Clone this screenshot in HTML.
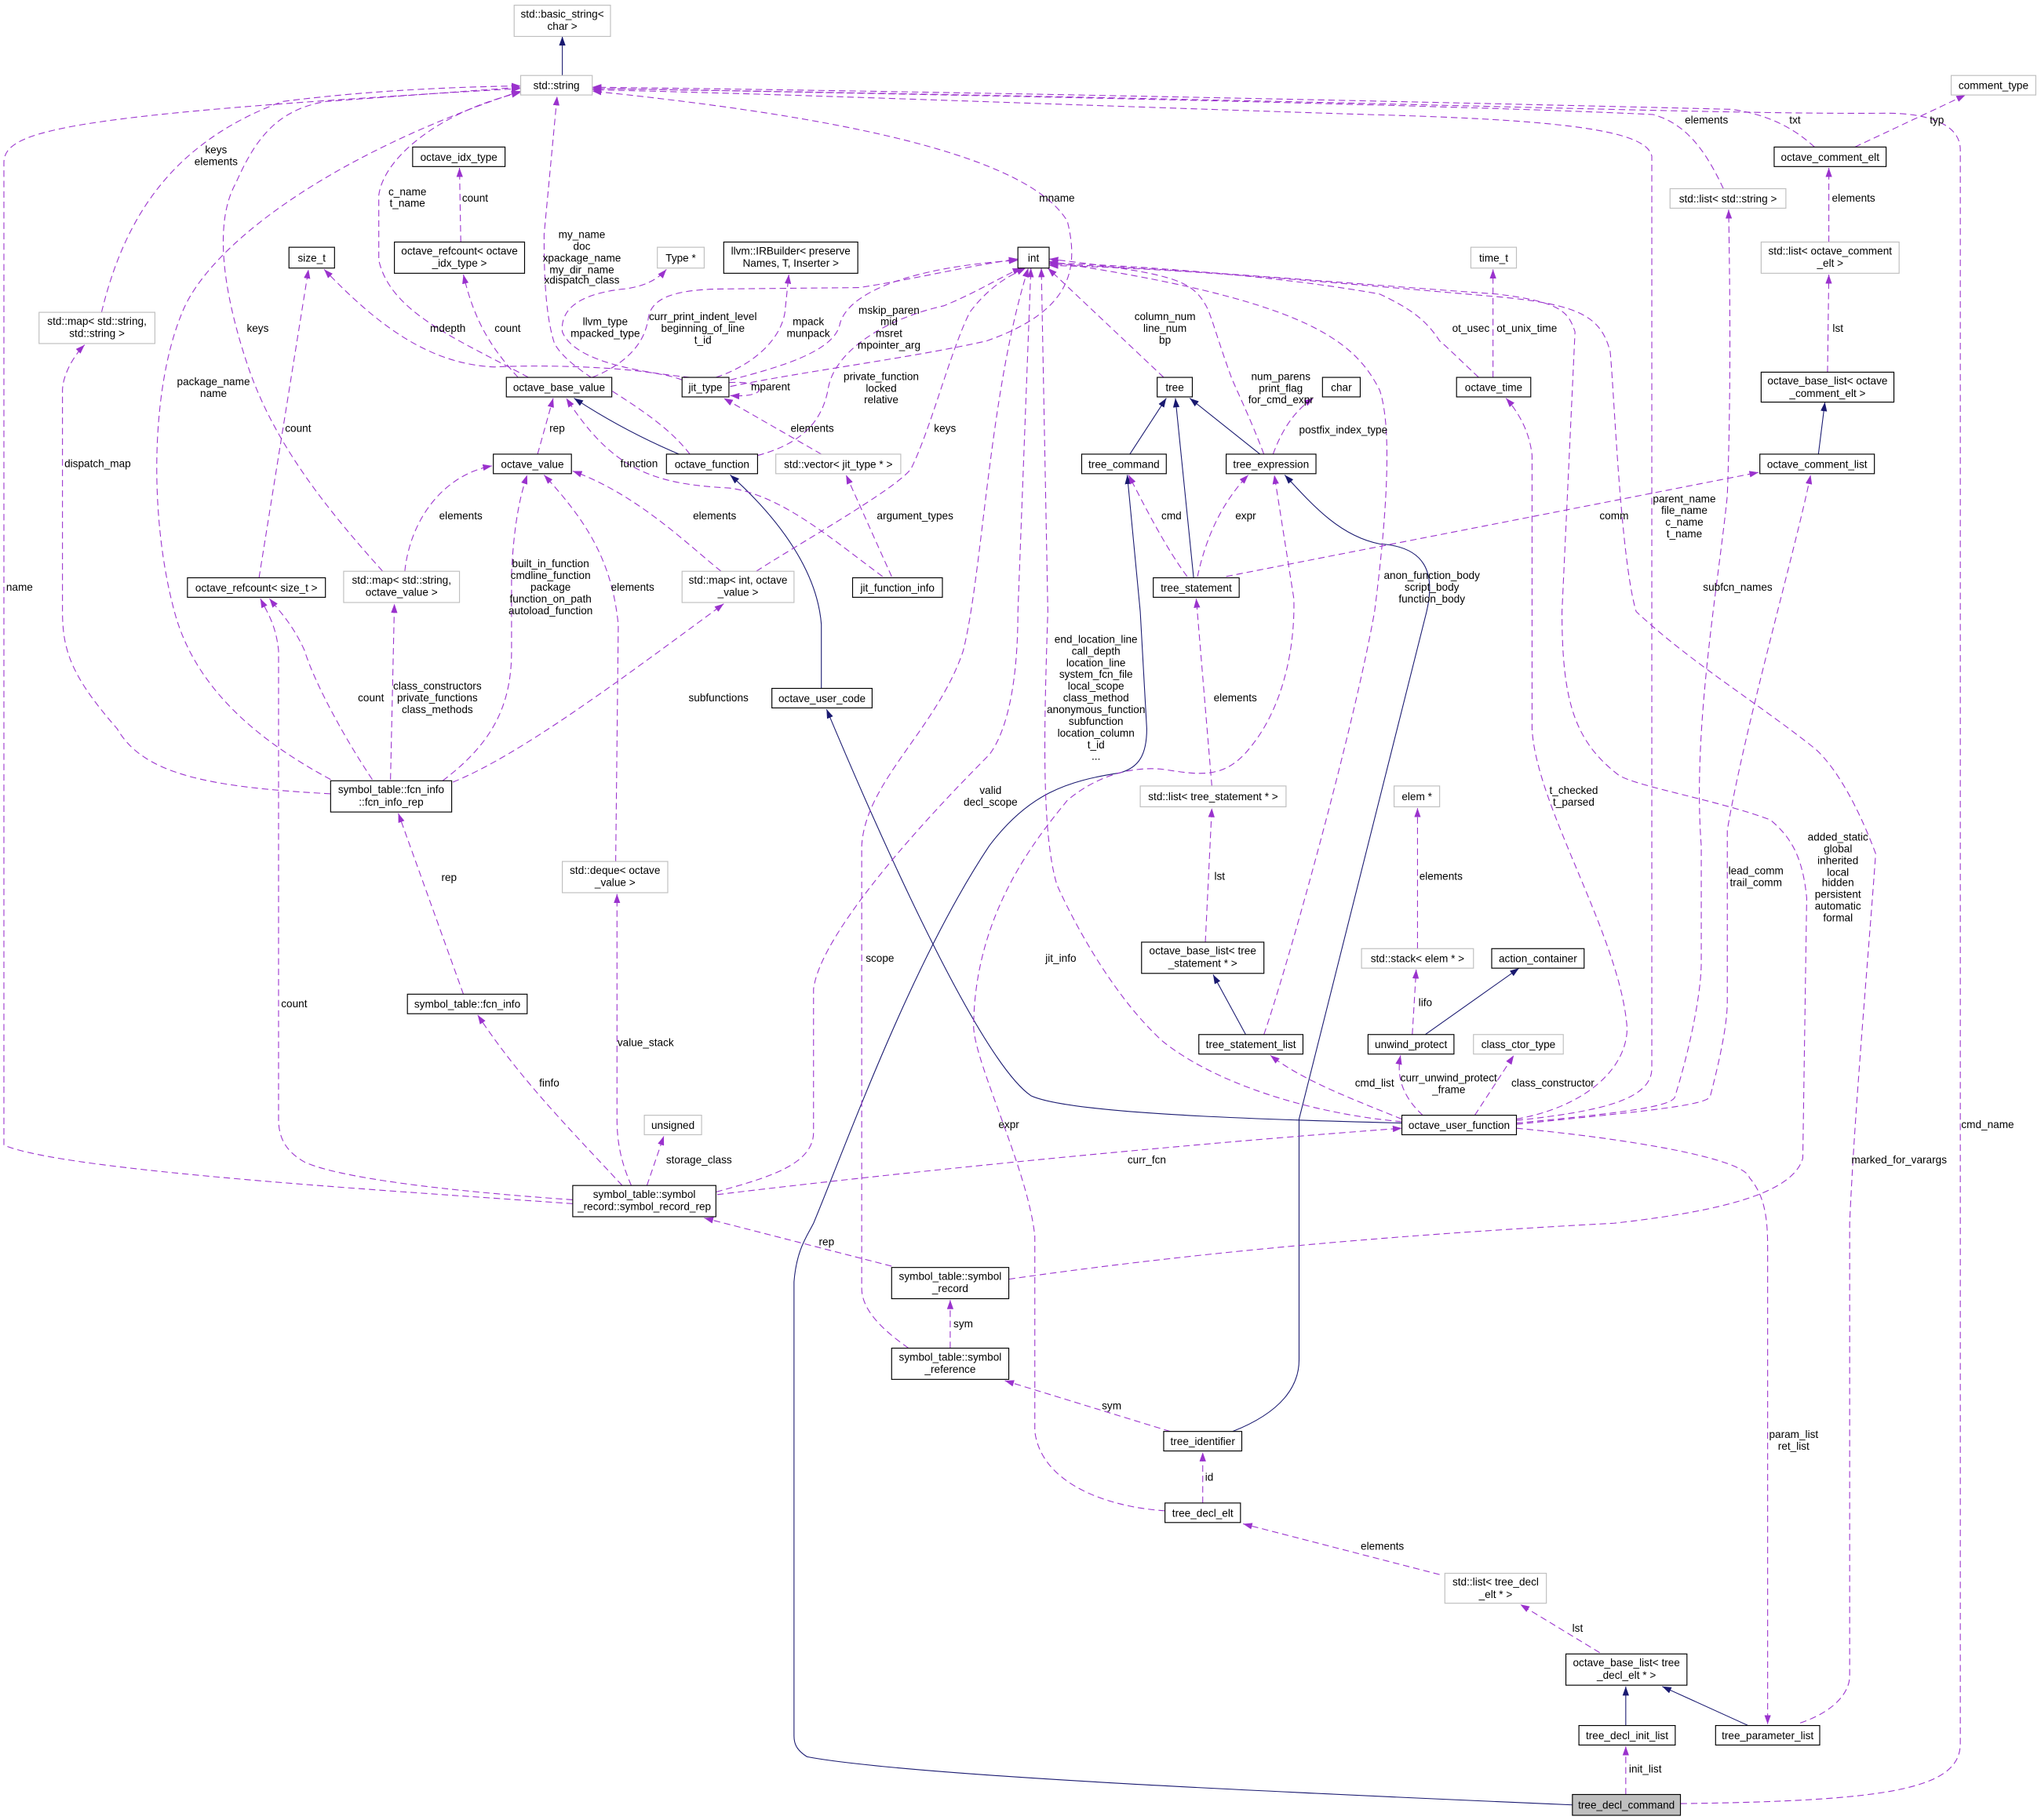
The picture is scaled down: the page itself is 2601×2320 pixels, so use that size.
<!DOCTYPE html>
<html><head><meta charset="utf-8"><style>
html,body{margin:0;padding:0;background:#fff}
svg{display:block}
text{font-family:"Liberation Sans",sans-serif;font-size:8.2px;fill:#000;text-anchor:middle}
.p{fill:none;stroke:#9a32cd;stroke-width:0.65;stroke-dasharray:5,3;marker-end:url(#ap)}
.n{fill:none;stroke:#191970;stroke-width:0.65;marker-end:url(#an)}
.b{fill:#fff;stroke:#000;stroke-width:0.7}
.g{fill:#fff;stroke:#bfbfbf;stroke-width:0.7}
</style></head><body>
<svg width="2601" height="2320" viewBox="0 0 1568 1398.6" xmlns="http://www.w3.org/2000/svg">
<defs>
<marker id="ap" markerUnits="userSpaceOnUse" markerWidth="7" markerHeight="5" refX="7" refY="2.5" orient="auto"><path d="M0,0 L7,2.5 L0,5 z" fill="#9a32cd"/></marker>
<marker id="an" markerUnits="userSpaceOnUse" markerWidth="7" markerHeight="5" refX="7" refY="2.5" orient="auto"><path d="M0,0 L7,2.5 L0,5 z" fill="#191970"/></marker>
</defs>
<rect width="1568" height="1398.6" fill="#fff"/>
<!-- navy edges -->
<path class="n" d="M432,58 L432,28"/>
<path class="n" d="M524,350 C500,340 470,325 441,306"/>
<path class="n" d="M631,529 L631,480 C628,440 600,400 561,365"/>
<path class="n" d="M868,349 L896,306"/>
<path class="n" d="M917,444 L903,306"/>
<path class="n" d="M968,349 L914,306"/>
<path class="n" d="M957,795 L932,749"/>
<path class="n" d="M1095,795 L1167,744"/>
<path class="n" d="M1397,349 L1402,309"/>
<path class="n" d="M1249,1326 L1249,1296"/>
<path class="n" d="M1343,1326 L1277,1296"/>
<path class="n" d="M1077,863 C950,860 820,855 792,842 C760,820 700,700 635,545"/>
<path class="n" d="M1208,1387 C1000,1378 700,1365 620,1350 C612,1345 610,1340 610,1334 L610,985 C612,960 620,950 625,940 C650,880 700,740 760,650 C790,610 820,600 860,594 C875,590 881,580 881,560 L876,470 L866,365"/>
<path class="n" d="M947,1100 C985,1085 998,1065 998,1045 L998,860 L1096,470 C1103,440 1095,420 1060,418 C1030,412 1010,390 987,365"/>
<!-- purple edges to std::string -->
<path class="p" d="M78,240 C95,170 130,110 217,78 C280,70 340,67 400,66"/>
<path class="p" d="M440,925 C300,915 50,900 3,880 L3,125 C3,100 50,88 400,68"/>
<path class="p" d="M254,599 C200,570 150,530 134,470 C115,400 115,300 140,240 C160,190 250,120 400,70"/>
<path class="p" d="M294,439 C250,390 210,340 190,280 C170,220 165,170 181,141 C195,110 210,85 250,78 L400,67"/>
<path class="p" d="M406,290 C350,260 300,240 291,200 L291,150 C295,120 340,85 400,71"/>
<path class="p" d="M530,349 C500,310 440,290 426,264 C418,240 418,200 418,180 L428,74"/>
<path class="p" d="M561,297 C620,285 700,275 758,262 C820,240 830,210 820,170 C790,120 650,90 455,70"/>
<path class="p" d="M1324,145 C1310,115 1295,95 1270,88 C1100,80 700,72 455,68"/>
<path class="p" d="M1394,113 C1380,100 1360,88 1330,84 C1000,76 700,70 455,67"/>
<path class="p" d="M1165,861 C1230,854 1269,845 1269,821 L1269,120 C1265,100 1200,92 1050,88 C800,80 600,72 455,69"/>
<path class="p" d="M1291,1386 C1450,1384 1506,1375 1506,1340 L1506,115 C1506,95 1480,87 1450,87 C1300,88 1100,78 455,68"/>
<path class="p" d="M1425,113 L1510,73"/>
<!-- to int -->
<path class="p" d="M455,290 C480,280 495,265 498,245 C500,228 520,222 560,222 L660,221 C700,215 740,205 782,199"/>
<path class="p" d="M561,292 C600,282 640,270 645,250 C650,225 700,205 782,200"/>
<path class="p" d="M582,350 C620,340 632,320 636,300 C640,270 680,245 725,235 C750,225 770,212 785,206"/>
<path class="p" d="M581,439 C610,420 690,375 700,360 C715,330 730,270 745,240 C760,220 775,212 788,206"/>
<path class="p" d="M698,1036 C675,1020 662,1005 662,990 L662,650 C665,600 720,560 740,500 C755,440 760,300 790,206"/>
<path class="p" d="M550,916 C590,905 625,895 625,870 L625,760 C630,720 700,640 760,580 C775,560 782,520 782,470 L792,206"/>
<path class="p" d="M1077,862 C1000,855 930,830 893,800 C860,770 830,720 812,680 C800,640 802,560 805,470 L800,206"/>
<path class="p" d="M894,290 L805,206"/>
<path class="p" d="M971,349 C960,320 950,300 946,290 C935,260 930,240 926,234 C915,215 900,210 806,199"/>
<path class="p" d="M971,795 C990,740 1040,560 1056,470 C1065,400 1070,330 1060,300 C1040,260 1000,230 806,201"/>
<path class="p" d="M1136,290 C1120,275 1110,265 1106,262 C1095,245 1083,237 1060,226 C1000,215 900,205 806,202"/>
<path class="p" d="M775,983 C900,965 1050,950 1240,940 C1330,930 1378,915 1385,890 L1388,690 C1385,660 1377,644 1360,630 C1320,615 1260,605 1244,596 C1210,570 1200,540 1200,470 L1210,255 C1205,240 1200,232 1150,226 C1000,215 900,206 806,203"/>
<path class="p" d="M1383,1324 C1410,1315 1421,1300 1421,1288 L1421,940 C1425,850 1435,740 1441,656 C1420,600 1400,580 1394,575 C1350,540 1300,510 1257,470 C1245,430 1240,300 1237,270 C1230,245 1217,234 1150,228 C1000,215 900,206 806,204"/>
<!-- other purple -->
<path class="p" d="M254,610 C160,605 110,595 90,560 C55,520 48,500 48,470 L48,300 C48,290 55,275 65,265"/>
<path class="p" d="M530,290 C480,285 440,275 432,255 C430,235 450,225 480,222 C495,220 505,215 512,207"/>
<path class="p" d="M550,290 C580,280 600,260 603,240 L606,211"/>
<path class="p" d="M560,294 C590,292 592,306 561,304"/>
<path class="p" d="M631,349 L556,306"/>
<path class="p" d="M685,443 L650,365"/>
<path class="p" d="M678,443 C640,415 600,380 560,375 C500,372 470,360 435,306"/>
<path class="p" d="M413,349 L425,306"/>
<path class="p" d="M524,292 C500,282 420,280 380,282 C330,280 290,250 249,207"/>
<path class="p" d="M398,290 C380,270 365,250 356,211"/>
<path class="p" d="M354,186 L353,129"/>
<path class="p" d="M311,439 C315,400 340,365 378,358"/>
<path class="p" d="M340,600 C380,570 393,540 393,500 L393,440 C395,400 400,380 405,365"/>
<path class="p" d="M473,662 L475,480 C470,430 450,400 418,365"/>
<path class="p" d="M554,439 C530,420 490,380 440,362"/>
<path class="p" d="M199,444 L237,207"/>
<path class="p" d="M286,599 C260,560 240,520 234,500 C225,480 215,470 207,460"/>
<path class="p" d="M440,922 C340,915 260,905 234,893 C220,885 214,875 214,860 L214,500 C212,480 205,470 200,460"/>
<path class="p" d="M300,599 L303,464"/>
<path class="p" d="M348,601 C400,580 480,520 556,464"/>
<path class="p" d="M356,764 L306,625"/>
<path class="p" d="M478,911 C440,870 400,830 367,780"/>
<path class="p" d="M485,911 C478,895 474,880 474,860 L474,687"/>
<path class="p" d="M497,911 L510,873"/>
<path class="p" d="M551,918 C700,900 900,880 1077,867"/>
<path class="p" d="M685,973 L541,936"/>
<path class="p" d="M730,1036 L730,999"/>
<path class="p" d="M899,1100 L772,1061"/>
<path class="p" d="M924,1155 L924,1116"/>
<path class="p" d="M1106,1210 L955,1171"/>
<path class="p" d="M1229,1270 L1168,1233"/>
<path class="p" d="M1249,1379 L1249,1342"/>
<path class="p" d="M1077,860 C1040,845 1000,830 976,811"/>
<path class="p" d="M1093,857 C1080,845 1072,830 1076,811"/>
<path class="p" d="M1133,857 L1163,811"/>
<path class="p" d="M1085,795 L1088,745"/>
<path class="p" d="M1089,729 L1089,621"/>
<path class="p" d="M926,724 L931,621"/>
<path class="p" d="M931,604 L919,460"/>
<path class="p" d="M1405,186 L1405,129"/>
<path class="p" d="M1404,286 L1405,211"/>
<path class="p" d="M1147,290 L1147,207"/>
<path class="p" d="M1165,860 C1220,850 1250,820 1250,790 C1245,720 1180,620 1177,560 L1177,350 C1175,330 1165,315 1157,306"/>
<path class="p" d="M1165,863 C1250,855 1287,850 1287,842 C1300,800 1307,760 1307,740 L1307,650 C1300,560 1320,450 1327,381 C1330,300 1329,220 1328,161"/>
<path class="p" d="M1165,864 C1250,855 1314,850 1314,842 C1325,800 1327,780 1327,770 L1327,638 C1340,560 1380,420 1391,365"/>
<path class="p" d="M1165,867 C1250,875 1340,890 1344,905 C1357,920 1358,940 1358,960 L1358,1325"/>
<path class="p" d="M942,443 L1351,363"/>
<path class="p" d="M912,443 C895,420 880,390 867,365"/>
<path class="p" d="M920,443 C925,420 935,390 959,365"/>
<path class="p" d="M978,349 C985,330 995,315 1009,306"/>
<path class="p" d="M895,1161 C850,1158 800,1140 795,1100 L795,950 C790,900 750,820 748,790 C748,700 800,640 820,615 C850,590 880,590 892,591 C920,595 940,600 960,575 C985,545 995,500 994,460 L979,365"/>
<!-- nodes -->
<g>
<rect class="g" x="395" y="4" width="74" height="24"/><text x="432" y="13.5">std::basic_string&lt;</text><text x="432" y="23">char &gt;</text>
<rect class="g" x="400" y="58" width="55" height="15"/><text x="427.5" y="68.5">std::string</text>
<rect class="g" x="1499" y="58" width="65" height="15"/><text x="1531.5" y="68.5">comment_type</text>
<rect class="b" x="317" y="113" width="71" height="15"/><text x="352.5" y="123.5">octave_idx_type</text>
<rect class="b" x="303" y="186" width="100" height="24"/><text x="353" y="195.5">octave_refcount&lt; octave</text><text x="353" y="205">_idx_type &gt;</text>
<rect class="b" x="222" y="190" width="35" height="16"/><text x="239.5" y="201">size_t</text>
<rect class="g" x="505" y="190" width="36" height="16"/><text x="523" y="201">Type *</text>
<rect class="b" x="556" y="186" width="103" height="24"/><text x="607.5" y="195.5">llvm::IRBuilder&lt; preserve</text><text x="607.5" y="205">Names, T, Inserter &gt;</text>
<rect class="b" x="782" y="190" width="24" height="16"/><text x="794" y="201">int</text>
<rect class="g" x="1130" y="190" width="35" height="16"/><text x="1147.5" y="201">time_t</text>
<rect class="b" x="1363" y="113" width="86" height="15"/><text x="1406" y="123.5">octave_comment_elt</text>
<rect class="g" x="1283" y="145" width="89" height="15"/><text x="1327.5" y="155.5">std::list&lt; std::string &gt;</text>
<rect class="g" x="1353" y="186" width="106" height="24"/><text x="1406" y="195.5">std::list&lt; octave_comment</text><text x="1406" y="205">_elt &gt;</text>
<rect class="g" x="30" y="240" width="89" height="24"/><text x="74.5" y="249.5">std::map&lt; std::string,</text><text x="74.5" y="259">std::string &gt;</text>
<rect class="b" x="389" y="290" width="81" height="15"/><text x="429.5" y="300.5">octave_base_value</text>
<rect class="b" x="524" y="290" width="36" height="15"/><text x="542" y="300.5">jit_type</text>
<rect class="b" x="889" y="290" width="27" height="15"/><text x="902.5" y="300.5">tree</text>
<rect class="b" x="1016" y="290" width="29" height="15"/><text x="1030.5" y="300.5">char</text>
<rect class="b" x="1119" y="290" width="57" height="15"/><text x="1147.5" y="300.5">octave_time</text>
<rect class="b" x="1353" y="286" width="102" height="23"/><text x="1404" y="295.5">octave_base_list&lt; octave</text><text x="1404" y="305">_comment_elt &gt;</text>
<rect class="b" x="379" y="349" width="60" height="15"/><text x="409" y="359.5">octave_value</text>
<rect class="b" x="512" y="349" width="70" height="15"/><text x="547" y="359.5">octave_function</text>
<rect class="g" x="596" y="349" width="96" height="15"/><text x="644" y="359.5">std::vector&lt; jit_type * &gt;</text>
<rect class="b" x="831" y="349" width="65" height="15"/><text x="863.5" y="359.5">tree_command</text>
<rect class="b" x="942" y="349" width="69" height="15"/><text x="976.5" y="359.5">tree_expression</text>
<rect class="b" x="1352" y="349" width="88" height="15"/><text x="1396" y="359.5">octave_comment_list</text>
<rect class="b" x="144" y="444" width="106" height="15"/><text x="197" y="454.5">octave_refcount&lt; size_t &gt;</text>
<rect class="g" x="264" y="439" width="89" height="24"/><text x="308.5" y="448.5">std::map&lt; std::string,</text><text x="308.5" y="458">octave_value &gt;</text>
<rect class="g" x="524" y="439" width="86" height="24"/><text x="567" y="448.5">std::map&lt; int, octave</text><text x="567" y="458">_value &gt;</text>
<rect class="b" x="655" y="444" width="69" height="15"/><text x="689.5" y="454.5">jit_function_info</text>
<rect class="b" x="886" y="444" width="66" height="15"/><text x="919" y="454.5">tree_statement</text>
<rect class="b" x="593" y="529" width="77" height="15"/><text x="631.5" y="539.5">octave_user_code</text>
<rect class="b" x="254" y="600" width="93" height="24"/><text x="300.5" y="609.5">symbol_table::fcn_info</text><text x="300.5" y="619">::fcn_info_rep</text>
<rect class="g" x="876" y="604" width="112" height="16"/><text x="932" y="615">std::list&lt; tree_statement * &gt;</text>
<rect class="g" x="1071" y="604" width="35" height="16"/><text x="1088.5" y="615">elem *</text>
<rect class="g" x="432" y="662" width="81" height="24"/><text x="472.5" y="671.5">std::deque&lt; octave</text><text x="472.5" y="681">_value &gt;</text>
<rect class="b" x="877" y="724" width="94" height="24"/><text x="924" y="733.5">octave_base_list&lt; tree</text><text x="924" y="743">_statement * &gt;</text>
<rect class="g" x="1046" y="729" width="86" height="15"/><text x="1089" y="739.5">std::stack&lt; elem * &gt;</text>
<rect class="b" x="1146" y="729" width="71" height="15"/><text x="1181.5" y="739.5">action_container</text>
<rect class="b" x="313" y="764" width="92" height="15"/><text x="359" y="774.5">symbol_table::fcn_info</text>
<rect class="b" x="921" y="795" width="80" height="15"/><text x="961" y="805.5">tree_statement_list</text>
<rect class="b" x="1051" y="795" width="66" height="15"/><text x="1084" y="805.5">unwind_protect</text>
<rect class="g" x="1132" y="795" width="69" height="15"/><text x="1166.5" y="805.5">class_ctor_type</text>
<rect class="g" x="495" y="857" width="44" height="15"/><text x="517" y="867.5">unsigned</text>
<rect class="b" x="1077" y="857" width="88" height="15"/><text x="1121" y="867.5">octave_user_function</text>
<rect class="b" x="440" y="911" width="110" height="24"/><text x="495" y="920.5">symbol_table::symbol</text><text x="495" y="930">_record::symbol_record_rep</text>
<rect class="b" x="685" y="974" width="90" height="24"/><text x="730" y="983.5">symbol_table::symbol</text><text x="730" y="993">_record</text>
<rect class="b" x="685" y="1036" width="90" height="24"/><text x="730" y="1045.5">symbol_table::symbol</text><text x="730" y="1055">_reference</text>
<rect class="b" x="894" y="1100" width="60" height="15"/><text x="924" y="1110.5">tree_identifier</text>
<rect class="b" x="895" y="1155" width="58" height="15"/><text x="924" y="1165.5">tree_decl_elt</text>
<rect class="g" x="1110" y="1209" width="78" height="23"/><text x="1149" y="1218.5">std::list&lt; tree_decl</text><text x="1149" y="1228">_elt * &gt;</text>
<rect class="b" x="1203" y="1271" width="93" height="24"/><text x="1249.5" y="1280.5">octave_base_list&lt; tree</text><text x="1249.5" y="1290">_decl_elt * &gt;</text>
<rect class="b" x="1213" y="1326" width="74" height="15"/><text x="1250" y="1336.5">tree_decl_init_list</text>
<rect class="b" x="1318" y="1326" width="80" height="15"/><text x="1358" y="1336.5">tree_parameter_list</text>
<rect x="1208" y="1379" width="83" height="16" fill="#bfbfbf" stroke="#000" stroke-width="0.7"/><text x="1249.5" y="1390">tree_decl_command</text>
</g>
<!-- labels -->
<g>
<text x="166" y="118">keys</text><text x="166" y="127">elements</text>
<text x="313" y="150">c_name</text><text x="313" y="159">t_name</text>
<text x="365" y="155">count</text>
<text x="447" y="183">my_name</text><text x="447" y="192">doc</text><text x="447" y="201">xpackage_name</text><text x="447" y="210">my_dir_name</text><text x="447" y="218">xdispatch_class</text>
<text x="812" y="155">mname</text>
<text x="540" y="246">curr_print_indent_level</text><text x="540" y="255">beginning_of_line</text><text x="540" y="264">t_id</text>
<text x="621" y="250">mpack</text><text x="621" y="259">munpack</text>
<text x="683" y="241">mskip_paren</text><text x="683" y="250">mid</text><text x="683" y="259">msret</text><text x="683" y="268">mpointer_arg</text>
<text x="465" y="250">llvm_type</text><text x="465" y="259">mpacked_type</text>
<text x="198" y="255">keys</text><text x="344" y="255">mdepth</text><text x="390" y="255">count</text>
<text x="895" y="246">column_num</text><text x="895" y="255">line_num</text><text x="895" y="264">bp</text>
<text x="1130" y="255">ot_usec</text><text x="1173" y="255">ot_unix_time</text><text x="1412" y="255">lst</text>
<text x="1311" y="95">elements</text><text x="1379" y="95">txt</text><text x="1488" y="95">typ</text><text x="1424" y="155">elements</text>
<text x="984" y="292">num_parens</text><text x="984" y="301">print_flag</text><text x="984" y="310">for_cmd_expr</text>
<text x="1032" y="333">postfix_index_type</text>
<text x="592" y="300">mparent</text>
<text x="677" y="292">private_function</text><text x="677" y="301">locked</text><text x="677" y="310">relative</text>
<text x="164" y="296">package_name</text><text x="164" y="305">name</text>
<text x="624" y="332">elements</text><text x="726" y="332">keys</text><text x="428" y="332">rep</text><text x="229" y="332">count</text>
<text x="75" y="359">dispatch_map</text><text x="491" y="359">function</text>
<text x="354" y="399">elements</text><text x="549" y="399">elements</text><text x="703" y="399">argument_types</text><text x="900" y="399">cmd</text><text x="957" y="399">expr</text><text x="1240" y="399">comm</text>
<text x="1294" y="386">parent_name</text><text x="1294" y="395">file_name</text><text x="1294" y="404">c_name</text><text x="1294" y="413">t_name</text>
<text x="423" y="436">built_in_function</text><text x="423" y="445">cmdline_function</text><text x="423" y="454">package</text><text x="423" y="463">function_on_path</text><text x="423" y="472">autoload_function</text>
<text x="486" y="454">elements</text><text x="15" y="454">name</text>
<text x="1100" y="445">anon_function_body</text><text x="1100" y="454">script_body</text><text x="1100" y="463">function_body</text>
<text x="1335" y="454">subfcn_names</text>
<text x="336" y="530">class_constructors</text><text x="336" y="539">private_functions</text><text x="336" y="548">class_methods</text>
<text x="285" y="539">count</text><text x="552" y="539">subfunctions</text>
<text x="842" y="494">end_location_line</text><text x="842" y="503">call_depth</text><text x="842" y="512">location_line</text><text x="842" y="521">system_fcn_file</text><text x="842" y="530">local_scope</text><text x="842" y="539">class_method</text><text x="842" y="548">anonymous_function</text><text x="842" y="557">subfunction</text><text x="842" y="566">location_column</text><text x="842" y="575">t_id</text><text x="842" y="584">...</text>
<text x="949" y="539">elements</text>
<text x="761" y="610">valid</text><text x="761" y="619">decl_scope</text>
<text x="1209" y="610">t_checked</text><text x="1209" y="619">t_parsed</text>
<text x="1412" y="646">added_static</text><text x="1412" y="655">global</text><text x="1412" y="664">inherited</text><text x="1412" y="673">local</text><text x="1412" y="681">hidden</text><text x="1412" y="690">persistent</text><text x="1412" y="699">automatic</text><text x="1412" y="708">formal</text>
<text x="1349" y="672">lead_comm</text><text x="1349" y="681">trail_comm</text>
<text x="1107" y="676">elements</text><text x="937" y="676">lst</text><text x="345" y="677">rep</text>
<text x="1095" y="773">lifo</text><text x="815" y="739">jit_info</text><text x="676" y="739">scope</text>
<text x="226" y="774">count</text><text x="496" y="804">value_stack</text><text x="422" y="835">finfo</text>
<text x="1056" y="835">cmd_list</text><text x="1113" y="831">curr_unwind_protect</text><text x="1113" y="840">_frame</text><text x="1193" y="835">class_constructor</text>
<text x="537" y="894">storage_class</text><text x="881" y="894">curr_fcn</text><text x="775" y="867">expr</text>
<text x="1459" y="894">marked_for_varargs</text><text x="1527" y="867">cmd_name</text>
<text x="635" y="957">rep</text><text x="740" y="1020">sym</text><text x="854" y="1083">sym</text><text x="929" y="1138">id</text>
<text x="1378" y="1105">param_list</text><text x="1378" y="1114">ret_list</text>
<text x="1062" y="1191">elements</text><text x="1212" y="1254">lst</text><text x="1264" y="1362">init_list</text>
</g>
</svg>
</body></html>
